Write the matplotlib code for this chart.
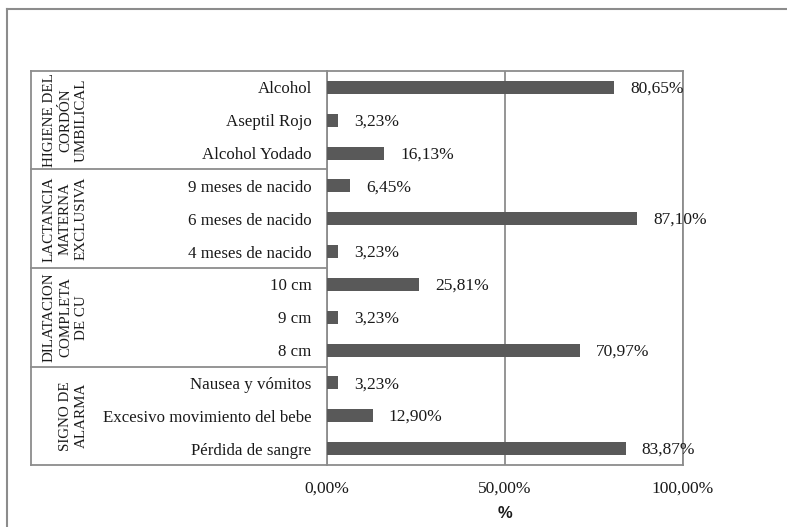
import matplotlib
matplotlib.use("Agg")
import matplotlib.pyplot as plt
import matplotlib.transforms as mtransforms
from matplotlib.lines import Line2D

# data, bottom row first (same order as the bars from bottom to top)
categories = ["Pérdida de sangre", "Excesivo movimiento del bebe", "Nausea y vómitos",
              "8 cm", "9 cm", "10 cm",
              "4 meses de nacido", "6 meses de nacido", "9 meses de nacido",
              "Alcohol Yodado", "Aseptil Rojo", "Alcohol"]
values = [83.87, 12.90, 3.23,
          70.97, 3.23, 25.81,
          3.23, 87.10, 6.45,
          16.13, 3.23, 80.65]
groups = ["SIGNO DE\nALARMA", "DILATACION\nCOMPLETA\nDE CU",
          "LACTANCIA\nMATERNA\nEXCLUSIVA", "HIGIENE DEL\nCORDÓN\nUMBILICAL"]
group_size = 3
xticks = [0, 50, 100]
xtick_labels = ["0,00%", "50,00%", "100,00%"]

W, H = 787, 527
serif = ["Liberation Serif", "DejaVu Serif"]
line_col = "#8c8c8c"
bar_col = "#595959"
txt_col = "#1a1a1a"

fig = plt.figure(figsize=(W / 100, H / 100), dpi=100)
ax_left, ax_right, ax_top, ax_bottom = 327, 683, 71, 465
ax = fig.add_axes([ax_left / W, 1 - ax_bottom / H,
                   (ax_right - ax_left) / W, (ax_bottom - ax_top) / H])

y = list(range(len(categories)))
ax.barh(y, values, height=0.4, color=bar_col, zorder=3)

for yi, v in zip(y, values):
    txt = f"{v:.2f}".replace(".", ",") + "%"
    ax.annotate(txt, (v, yi), xytext=(11.5, -1), textcoords="offset points",
                va="center", ha="left", fontsize=12.5, family=serif, color=txt_col)

ax.set_xlim(0, 100)
ax.set_ylim(-0.5, len(categories) - 0.5)
ax.set_xticks(xticks)
ax.set_xticklabels(xtick_labels, family=serif, fontsize=12.5)
ax.set_yticks(y)
ax.set_yticklabels(categories, family=serif, fontsize=12.2)
ax.tick_params(axis="both", length=0, colors=txt_col)
ax.tick_params(axis="y", pad=11)
ax.tick_params(axis="x", pad=11)
ax.set_xlabel("%", fontweight="bold", fontsize=12, family=["Liberation Sans", "DejaVu Sans"],
              labelpad=7, color=txt_col)
ax.grid(axis="x", color=line_col, linewidth=1.3, zorder=0)
for s in ax.spines.values():
    s.set_color(line_col)
    s.set_linewidth(1.3)

# table lines on the left for the groups
trans = mtransforms.blended_transform_factory(ax.transAxes, ax.transData)
table_left = (31 - ax_left) / (ax_right - ax_left)
n_groups = len(groups)
for g in range(n_groups + 1):
    yb = g * group_size - 0.5
    ax.plot([table_left, 0], [yb, yb], transform=trans, color=line_col,
            linewidth=1.3, clip_on=False)
ax.plot([table_left, table_left], [-0.5, len(categories) - 0.5], transform=trans,
        color=line_col, linewidth=1.3, clip_on=False)

label_right = (88 - ax_left) / (ax_right - ax_left)
for g, name in enumerate(groups):
    yc = g * group_size + (group_size - 1) / 2
    ax.text(label_right, yc, name, transform=trans, rotation=90, ha="right",
            va="center", multialignment="center", fontsize=10.8, family=serif,
            color=txt_col, linespacing=1.3)

# outer frame of the chart (only left and top visible)
fig.add_artist(Line2D([7 / W, 7 / W], [0, 1 - 9 / H], color=line_col, linewidth=1.5))
fig.add_artist(Line2D([7 / W, 1], [1 - 9 / H, 1 - 9 / H], color=line_col, linewidth=1.5))

fig.savefig("out.png", dpi=100)
